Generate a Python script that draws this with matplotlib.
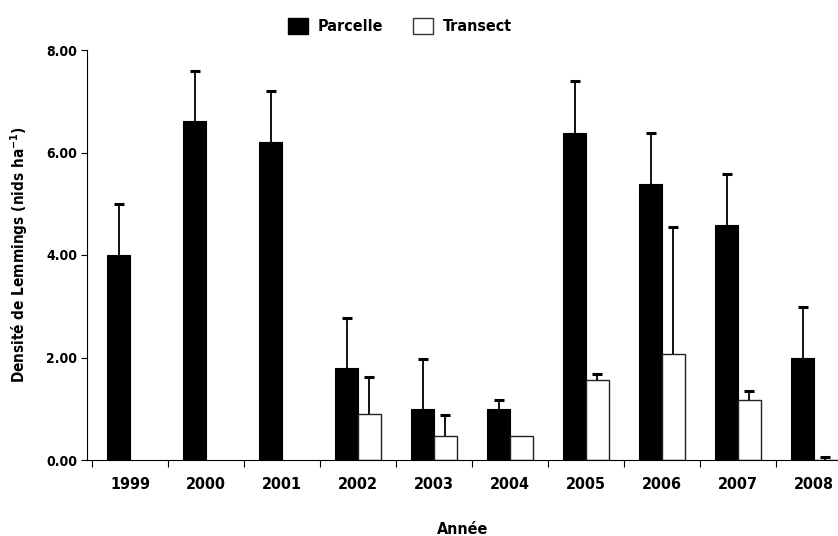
import matplotlib
matplotlib.use('Agg')
import matplotlib.pyplot as plt
import numpy as np
from matplotlib.patches import Patch

years = ['1999', '2000', '2001', '2002', '2003', '2004', '2005', '2006', '2007', '2008']
parcelle = [4.00, 6.62, 6.20, 1.80, 1.00, 1.00, 6.38, 5.39, 4.59, 1.99]
parcelle_err = [1.00, 0.98, 1.00, 0.98, 0.98, 0.18, 1.02, 1.00, 1.00, 1.00]
# no transect survey before 2002
transect = [np.nan, np.nan, np.nan, 0.90, 0.46, 0.46, 1.56, 2.06, 1.17, 0.0]
transect_err = [np.nan, np.nan, np.nan, 0.71, 0.42, np.nan, 0.11, 2.49, 0.18, 0.065]

plt.rcParams['font.family'] = ['DejaVu Sans']
plt.rcParams['font.stretch'] = 'condensed'
plt.rcParams['font.weight'] = 'bold'

fig = plt.figure(figsize=(8.38, 5.36), dpi=100)
ax = fig.add_axes([87 / 838, 76 / 536, 751 / 838, 410 / 536])

x = np.arange(len(years))
w = 0.30
ax.bar(x - w / 2, parcelle, w, color='black', edgecolor='black', linewidth=0.8)
ax.bar(x + w / 2, transect, w, color='white', edgecolor='#222222', linewidth=1.0)


def upper_err(xs, ys, errs):
    # only the upper half of the error bar, like the original figure
    xs, ys, errs = np.asarray(xs, float), np.asarray(ys, float), np.asarray(errs, float)
    ok = ~np.isnan(errs)
    ax.vlines(xs[ok], ys[ok], ys[ok] + errs[ok], color='black', linewidth=1.3, zorder=3)
    ax.plot(xs[ok], ys[ok] + errs[ok], ls='none', marker='_', ms=7, mew=2.2, color='black', zorder=3)


upper_err(x - w / 2, parcelle, parcelle_err)
upper_err(x + w / 2, transect, transect_err)

ax.set_xlim(-0.566, 9.316)
ax.set_ylim(0, 8)
ax.set_yticks([0, 2, 4, 6, 8])
ax.set_yticklabels(['%.2f' % v for v in [0, 2, 4, 6, 8]], fontsize=10, fontweight='bold')
ax.set_xticks(x)
ax.set_xticklabels(years, fontsize=11.5, fontweight='bold')
ax.set_xticks(np.arange(-0.5, 9.5, 1), minor=True)
ax.tick_params(axis='x', which='major', length=0, pad=12)
ax.tick_params(axis='x', which='minor', length=5, width=0.8, direction='out')
ax.tick_params(axis='y', length=4, width=0.8, direction='out', pad=3)

for s in ['top', 'right']:
    ax.spines[s].set_visible(False)
for s in ['left', 'bottom']:
    ax.spines[s].set_linewidth(0.8)

ax.set_ylabel('Densité de Lemmings (nids ha$^{\\mathbf{-1}}$)', fontsize=11, fontweight='bold', labelpad=12)
ax.set_xlabel('Année', fontsize=11.5, fontweight='bold', labelpad=22)

handles = [Patch(facecolor='black', edgecolor='black', label='Parcelle'),
           Patch(facecolor='white', edgecolor='#333333', label='Transect')]
fig.legend(handles=handles, loc='center', bbox_to_anchor=(400 / 838, 1 - 26 / 536), ncol=2, frameon=False,
           prop={'weight': 'bold', 'size': 11.5, 'stretch': 'condensed'}, handlelength=1.25, handleheight=1.25,
           columnspacing=1.9, handletextpad=0.6)

plt.savefig('out.png', dpi=100)
